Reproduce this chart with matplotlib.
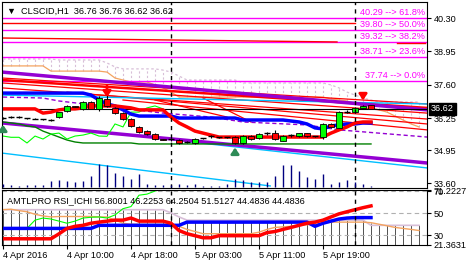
import matplotlib.pyplot as plt

plt.rcParams["font.family"] = ["Liberation Sans", "DejaVu Sans"]
plt.rcParams["font.size"] = 6.6

# ---------------- data ----------------
opens = [36.25, 36.29, 36.29, 36.25, 36.22, 36.21, 36.17, 36.29, 36.53, 36.72,
         36.62, 36.90, 36.62, 37.02, 36.66, 36.45, 36.21, 35.89, 35.72, 35.60,
         35.40, 35.40, 35.36, 35.28, 35.24, 35.44, 35.52, 35.48, 35.48, 35.48,
         35.24, 35.52, 35.44, 35.64, 35.64, 35.32, 35.56, 35.52, 35.64, 35.52,
         35.48, 36.01, 35.85, 36.49, 36.49, 36.66, 36.76]
highs = [36.30, 36.33, 36.33, 36.27, 36.24, 36.23, 36.21, 36.51, 36.76, 36.74,
         36.92, 36.94, 37.14, 37.18, 36.70, 36.49, 36.25, 35.93, 35.76, 35.64,
         35.42, 35.46, 35.40, 35.32, 35.46, 35.46, 35.56, 35.50, 35.50, 35.52,
         35.56, 35.56, 35.64, 35.70, 35.77, 35.56, 35.62, 35.66, 35.66, 35.54,
         36.05, 36.05, 36.53, 36.58, 36.70, 36.76, 36.76]
lows = [36.20, 36.25, 36.25, 36.23, 36.20, 36.19, 36.11, 36.25, 36.49, 36.68,
        36.58, 36.60, 36.55, 36.70, 36.40, 36.17, 35.90, 35.64, 35.58, 35.36,
        35.36, 35.34, 35.20, 35.24, 35.20, 35.40, 35.46, 35.44, 35.46, 35.20,
        35.20, 35.36, 35.40, 35.58, 35.36, 35.30, 35.50, 35.50, 35.50, 35.50,
        35.40, 35.85, 35.83, 36.45, 36.47, 36.64, 36.62]
closes = [36.25, 36.29, 36.29, 36.24, 36.21, 36.20, 36.17, 36.49, 36.74, 36.70,
          36.90, 36.62, 37.06, 36.74, 36.45, 36.21, 35.93, 35.68, 35.60, 35.40,
          35.38, 35.40, 35.24, 35.28, 35.40, 35.43, 35.52, 35.47, 35.47, 35.24,
          35.52, 35.40, 35.60, 35.64, 35.40, 35.52, 35.56, 35.64, 35.52, 35.51,
          36.01, 35.89, 36.49, 36.49, 36.66, 36.74, 36.62]
volumes = [300, 200, 100, 200, 200, 200, 600, 700, 600, 500,
           600, 1100, 2300, 2200, 1400, 1100, 800, 1300, 300, 200,
           200, 200, 300, 200, 300, 100, 100, 100, 300, 800,
           700, 500, 500, 500, 1100, 2200, 2200, 1600, 1000, 800,
           1300, 300, 500, 700, 500, 300, 100]

tenkan = [36.62] * 5 + [36.45, 36.49, 36.58, 36.62, 36.62, 36.66] + [36.74] * 4 + \
         [36.70, 36.66] + [36.58] * 4 + [36.29, 36.05, 35.89, 35.72, 35.64, 35.56] + \
         [35.48] * 14 + [35.64, 35.77, 35.89, 36.05, 36.09, 36.09]
kijun = [37.26] * 11 + [37.18, 36.98, 36.82, 36.74, 36.58, 36.41] + [36.33] * 5 + \
        [36.25] * 8 + [36.17] * 6 + [36.13, 36.09, 36.01, 35.85, 35.81, 35.93,
                                     35.97, 36.01, 36.01, 36.05, 36.05]
senkou_a = [38.36] * 6 + [38.15] * 7 + [38.11, 37.87, 37.79, 37.71, 37.71, 37.71,
                                         37.59, 37.47, 37.30] + [37.10] * 19 + \
           [37.02, 36.98, 36.94, 36.82, 36.74, 36.66, 36.58, 36.49, 36.33, 36.17,
            36.01, 35.89]
senkou_b = [38.64] * 7 + [38.60] * 6 + [38.48, 38.32] + [38.24] * 5 + \
           [38.19, 38.11, 37.95] + [37.79] * 7 + [37.67] * 11 + \
           [37.59, 37.47, 37.30, 37.18, 37.06, 36.98] + [36.90] * 6
dark_green = [36.09, 36.05, 36.01, 35.93, 35.89, 35.72, 35.60, 35.48, 35.36, 35.28] + \
             [35.24] * 7 + [35.20] * 30

dash_purple_x = [0, 5, 7, 20, 26, 30, 38, 42, 53]
dash_purple_p = [37.10, 37.06, 36.94, 36.45, 36.29, 36.09, 35.97, 35.77, 35.48]

# trend lines: (x0, p0, x1, p1)
purple_lines = [(-0.1, 38.11, 53, 36.58), (-0.1, 36.05, 53, 34.43)]
cyan_lines = [(-0.1, 37.18, 53, 36.82), (-0.1, 34.83, 33.4, 33.50),
              (23.5, 35.28, 53, 34.23)]
red_lines = [(-0.1, 37.87, 53, 36.82), (-0.1, 37.79, 53, 36.66),
             (-0.1, 37.67, 53, 36.45), (-0.1, 37.47, 53, 36.21),
             (8, 37.30, 53, 36.01), (15, 36.98, 53, 35.77),
             (19, 36.98, 28, 36.29), (25, 37.06, 31, 36.09)]
red_hlines = [(-0.1, 40.10, 44, 40.10), (-0.1, 39.49, 41.75, 39.33),
              (49.25, 39.29, 52.8, 39.29)]

fib_prices = [40.29, 39.80, 39.32, 38.71, 37.74]
fib_pcts = ["61.8%", "50.0%", "38.2%", "23.6%", "0.0%"]

price_ticks = [33.60, 34.95, 36.25, 37.60, 38.95, 40.30]
last_price = 36.62

# RSI ichimoku panel
rsi_tenkan = [27.0] * 7 + [31.5, 36.4, 38.3, 39.2, 41.1, 42.1, 43.0, 43.9, 43.9, 45.8] + \
             [43.0] * 4 + [41.1, 34.5, 31.6, 29.8, 27.9, 27.9] + [29.8] * 6 + \
             [32.6, 33.6, 35.5, 37.3, 39.2, 41.1, 42.1, 43.9, 46.8, 49.6, 51.5,
              53.4, 55.2, 56.8]
rsi_kijun = [36.4] * 12 + [39.2] * 11 + [42.1] * 16 + [38.3, 41.1, 43.0, 44.9, 45.8] + \
            [46.2] * 3
rsi_chikou = [36.4, 36.4, 36.4, 36.4, 43.9, 45.8, 44.9, 43.0, 41.1, 43.0, 45.8,
              46.5, 46.8, 45.8, 48.6, 54.3, 56.2, 66.5, 67.5, 70.3, 72.0]
rsi_span_a = [53.4, 53.8, 52.5, 51.5, 49.2, 47.7, 46.8] + [47.2] * 5 + \
             [46.8, 46.8, 44.0, 41.1] + [40.2] * 5 + [39.7, 38.3, 35.5, 33.6] + \
             [31.6] * 7 + [33.0, 35.5, 37.3, 37.8, 38.3, 39.2, 39.7, 40.2, 41.1] + \
             [42.1] * 5 + [41.6, 40.2, 38.8, 37.3, 36.4, 35.5, 34.5]
rsi_span_b = [53.35] * 21 + [50.5, 46.8] + [43.9] * 23 + [39.2] * 7
rsi_min, rsi_max = 21.3631, 71.2227

time_ticks = [0, 8, 16, 24, 32, 40]
time_labels = ["4 Apr 2016", "4 Apr 10:00", "4 Apr 18:00",
               "5 Apr 03:00", "5 Apr 11:00", "5 Apr 19:00"]
separators = [21, 44]

# ---------------- figure ----------------
fig = plt.figure(figsize=(4.67, 2.65), dpi=100)
ax = fig.add_axes([2 / 467, 1 - 188 / 265, 425 / 467, 186 / 265])
axv = fig.add_axes(ax.get_position(), sharex=ax)
ax2 = fig.add_axes([2 / 467, 1 - 245 / 265, 425 / 467, 55 / 265], sharex=ax)

n = len(closes)
bars = list(range(n))
cloud_x = list(range(len(senkou_a)))

# volume
axv.vlines(bars, 0, volumes, color="#000080", lw=1)
axv.set_ylim(-130, 18470)
axv.axis("off")
axv.patch.set_alpha(0)

# cloud
lo = [min(a, b) for a, b in zip(senkou_a, senkou_b)]
hi = [max(a, b) for a, b in zip(senkou_a, senkou_b)]
ax.vlines(cloud_x, lo, hi, colors="#d8bfd8", linestyles=(0, (2, 2)), lw=0.8)
ax.plot(cloud_x, senkou_b, color="#d8bfd8", lw=0.9, ls=(0, (2, 2)))
ax.plot(cloud_x, senkou_a, color="#f4a460", lw=0.9)

for i, p in enumerate(fib_prices):
    ax.axhline(p, color="#ff00ff", lw=1)
    ax.text(52.75, p + 0.04, f"{p:.2f} --> {fib_pcts[i]}", color="#ff00ff",
            ha="right", va="bottom", fontsize=6.6)

for x0, p0, x1, p1 in red_hlines:
    ax.plot([x0, x1], [p0, p1], color="red", lw=1)
for k, (x0, p0, x1, p1) in enumerate(red_lines):
    ax.plot([x0, x1], [p0, p1], color="red", lw=1.8 if k == 1 else 0.9)
for x0, p0, x1, p1 in cyan_lines:
    ax.plot([x0, x1], [p0, p1], color="#00bfff", lw=1)
for x0, p0, x1, p1 in purple_lines:
    ax.plot([x0, x1], [p0, p1], color="#9400d3", lw=2.5)

ax.plot(dash_purple_x, dash_purple_p, color="#9400d3", lw=1, ls=(0, (3, 2)))
ax.plot(bars, dark_green, color="#008000", lw=1)
ax.axhline(last_price, color="black", lw=0.8)
ax.plot(range(len(closes[26:])), closes[26:], color="#00ff00", lw=0.8)
ax.plot(bars, kijun, color="#0000ff", lw=2.5)
ax.plot(bars, tenkan, color="#ff0000", lw=2.5)

# candles
for i in bars:
    o, h, l, c = opens[i], highs[i], lows[i], closes[i]
    ax.vlines(i, l, h, color="black", lw=0.8, zorder=5)
    if abs(c - o) < 0.015:
        ax.hlines(o, i - 0.35, i + 0.35, color="black", lw=1, zorder=6)
    else:
        ax.bar(i, abs(c - o), bottom=min(o, c), width=0.65,
               color="#00ff00" if c > o else "red", edgecolor="black",
               lw=0.6, zorder=6)

# fractal arrows
arrow_red = dict(arrowstyle="-|>,head_width=0.35,head_length=0.5", color="red", lw=2)
arrow_grn = dict(arrowstyle="-|>,head_width=0.35,head_length=0.5", color="#2e8b57", lw=2)
ax.annotate("", xy=(13, 36.98), xytext=(13, 37.67), arrowprops=arrow_red, zorder=7)
ax.annotate("", xy=(45, 36.86), xytext=(45, 37.26), arrowprops=arrow_red, zorder=7)
ax.annotate("", xy=(0, 36.09), xytext=(0, 35.64), arrowprops=arrow_grn, zorder=7)
ax.annotate("", xy=(29, 35.16), xytext=(29, 34.75), arrowprops=arrow_grn, zorder=7)

for s in separators:
    ax.axvline(s, color="black", lw=1, ls=(0, (3, 3)), zorder=8)
    ax2.axvline(s, color="black", lw=1, ls=(0, (3, 3)), zorder=8)

ax.text(0.012, 0.975, "\u25bc  CLSCID,H1  36.76 36.76 36.62 36.62",
        transform=ax.transAxes, ha="left", va="top", fontsize=6.6, zorder=9)

ax.set_xlim(-0.125, 53.0)
ax.set_ylim(33.417, 40.948)
ax.yaxis.tick_right()
ax.set_yticks(price_ticks)
ax.set_yticklabels([f"{p:.2f}" for p in price_ticks])
ax.tick_params(axis="y", length=3, pad=2, labelsize=6.6)
ax.tick_params(axis="x", bottom=False, labelbottom=False)
ax.annotate(f"{last_price:.2f}", xy=(1, last_price),
            xycoords=("axes fraction", "data"), xytext=(3, 0),
            textcoords="offset points", va="center", ha="left", color="white",
            fontsize=6.6, annotation_clip=False, zorder=10,
            bbox=dict(boxstyle="square,pad=0.2", fc="black", ec="black"))

# ---------------- RSI panel ----------------
rx = list(range(len(rsi_span_a)))
ax2.vlines(rx, rsi_min, [max(a, b) for a, b in zip(rsi_span_a, rsi_span_b)],
           color="#505050", lw=0.7)
for g in [30, 50, 70]:
    ax2.axhline(g, color="#b0b0b0", lw=0.8, ls=(0, (4, 3)))
ax2.plot(rx, rsi_span_b, color="#d8bfd8", lw=1.2)
ax2.plot(rx, rsi_span_a, color="#f4a460", lw=1)
ax2.plot(range(len(rsi_chikou)), rsi_chikou, color="#00ff00", lw=0.8)
ax2.plot(bars, rsi_kijun, color="#0000ff", lw=2.5)
ax2.plot(bars, rsi_tenkan, color="#ff0000", lw=2.5)
ax2.text(0.012, 0.88, "AMTLPRO RSI_ICHI 56.8001 46.2253 64.2504 51.5127 44.4836 44.4836",
         transform=ax2.transAxes, ha="left", va="top", fontsize=6.6)
ax2.set_ylim(rsi_min, rsi_max)
ax2.yaxis.tick_right()
ax2.set_yticks([rsi_min, 30, 50, 70, rsi_max])
ax2.set_yticklabels(["21.3631", "30", "50", "70", "71.2227"])
ax2.tick_params(axis="y", length=3, pad=2, labelsize=6.6)
ax2.set_xticks(time_ticks)
ax2.set_xticklabels(time_labels, ha="left")
ax2.tick_params(axis="x", length=3, pad=1, labelsize=6.6)

for a in (ax, ax2):
    for sp in a.spines.values():
        sp.set_color("black")
        sp.set_linewidth(0.8)

fig.savefig("out.png", dpi=100)
